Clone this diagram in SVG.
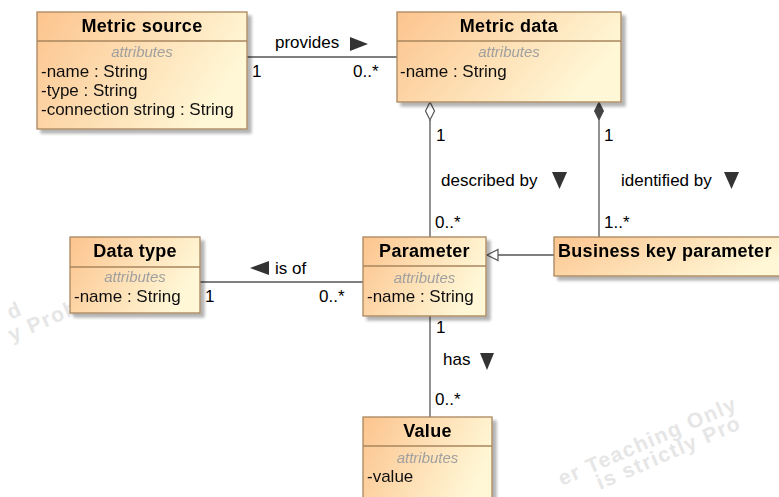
<svg xmlns="http://www.w3.org/2000/svg" width="779" height="497" viewBox="0 0 779 497">
<defs>
<linearGradient id="g" x1="0" y1="0" x2="1" y2="0.35">
<stop offset="0" stop-color="#fcc48e"/>
<stop offset="1" stop-color="#fff7d6"/>
</linearGradient>
<filter id="sh" x="-10%" y="-10%" width="130%" height="140%">
<feGaussianBlur in="SourceAlpha" stdDeviation="1.5"/>
<feOffset dx="4" dy="4" result="o"/>
<feComponentTransfer><feFuncA type="linear" slope="0.3"/></feComponentTransfer>
<feMerge><feMergeNode/><feMergeNode in="SourceGraphic"/></feMerge>
</filter>
</defs>
<style>
.box{fill:url(#g);stroke:#a8865c;stroke-width:1.3}
.sep{stroke:#a8865c;stroke-width:1.3}
.t{font-family:"Liberation Sans",Arial,sans-serif;font-size:18px;font-weight:bold;fill:#000;letter-spacing:0.3px;text-anchor:middle}
.a{font-family:"Liberation Sans",Arial,sans-serif;font-size:15px;font-style:italic;fill:#a0a0a0;text-anchor:middle}
.f{font-family:"Liberation Sans",Arial,sans-serif;font-size:17px;fill:#111}
.l{font-family:"Liberation Sans",Arial,sans-serif;font-size:17px;fill:#000}
.c{stroke:#555;stroke-width:1.3;fill:none}
.tri{fill:#333}
.wm{font-family:"Liberation Sans",Arial,sans-serif;font-size:21px;font-weight:bold;fill:#e6e6e6;letter-spacing:1.5px}
</style>
<rect width="779" height="497" fill="#fff"/>
<g id="watermark">
<text class="wm" x="24" y="314" text-anchor="end" transform="rotate(-23.5 24 314)">d</text>
<text class="wm" x="12" y="342" transform="rotate(-23.5 12 342)">y Prob</text>
<text class="wm" x="562" y="486" transform="rotate(-23.5 562 486)">er Teaching Only</text>
<text class="wm" x="600" y="490" transform="rotate(-23.5 600 490)">is strictly Pro</text>
</g>
<g id="connectors">
<line class="c" x1="247" y1="57" x2="397" y2="57"/>
<text class="l" x="275" y="48">provides</text>
<path class="tri" d="M350,37 L368,44 L350,51 Z"/>
<text class="l" x="252" y="77">1</text>
<text class="l" x="353" y="77">0..*</text>

<line class="c" x1="430" y1="120" x2="430" y2="237"/>
<path d="M430,102 L434.5,111 L430,120 L425.5,111 Z" fill="#fff" stroke="#555" stroke-width="1.2"/>
<text class="l" x="436" y="141">1</text>
<text class="l" x="441" y="186">described by</text>
<path class="tri" d="M552,172 L567,172 L559.5,189 Z"/>
<text class="l" x="435" y="228">0..*</text>

<line class="c" x1="599" y1="120" x2="599" y2="237"/>
<path d="M599,102 L603.5,111 L599,120 L594.5,111 Z" fill="#444" stroke="#444" stroke-width="1"/>
<text class="l" x="604" y="141">1</text>
<text class="l" x="621" y="186">identified by</text>
<path class="tri" d="M724,172 L739,172 L731.5,189 Z"/>
<text class="l" x="604" y="228">1..*</text>

<line class="c" x1="200" y1="282" x2="363" y2="282"/>
<path class="tri" d="M250,268 L269,261 L269,275 Z"/>
<text class="l" x="275" y="274">is of</text>
<text class="l" x="205" y="302">1</text>
<text class="l" x="319" y="302">0..*</text>

<line class="c" x1="498" y1="255" x2="554" y2="255"/>
<path d="M487,255 L498,249.5 L498,260.5 Z" fill="#fff" stroke="#555" stroke-width="1.2"/>

<line class="c" x1="430" y1="316" x2="430" y2="417"/>
<text class="l" x="436" y="333">1</text>
<text class="l" x="443" y="365">has</text>
<path class="tri" d="M480,353 L494,353 L487,370 Z"/>
<text class="l" x="435" y="405">0..*</text>
</g>
<g id="metric-source" filter="url(#sh)">
<rect class="box" x="37" y="12" width="210" height="117"/>
<line class="sep" x1="37" y1="41" x2="247" y2="41"/>
<text class="t" x="142" y="32">Metric source</text>
<text class="a" x="142" y="57">attributes</text>
<text class="f" x="41" y="77">-name : String</text>
<text class="f" x="41" y="96">-type : String</text>
<text class="f" x="41" y="115">-connection string : String</text>
</g>
<g id="metric-data" filter="url(#sh)">
<rect class="box" x="397" y="12" width="224" height="90"/>
<line class="sep" x1="397" y1="41" x2="621" y2="41"/>
<text class="t" x="509" y="32">Metric data</text>
<text class="a" x="509" y="57">attributes</text>
<text class="f" x="400" y="77">-name : String</text>
</g>
<g id="data-type" filter="url(#sh)">
<rect class="box" x="70" y="237" width="130" height="76"/>
<line class="sep" x1="70" y1="267" x2="200" y2="267"/>
<text class="t" x="135" y="257">Data type</text>
<text class="a" x="135" y="282">attributes</text>
<text class="f" x="74" y="302">-name : String</text>
</g>
<g id="parameter" filter="url(#sh)">
<rect class="box" x="363" y="237" width="123" height="79"/>
<line class="sep" x1="363" y1="266" x2="486" y2="266"/>
<text class="t" x="424.5" y="257">Parameter</text>
<text class="a" x="424.5" y="283">attributes</text>
<text class="f" x="367" y="302">-name : String</text>
</g>
<g id="business-key-parameter" filter="url(#sh)">
<rect class="box" x="554" y="237" width="240" height="39"/>
<text class="t" x="558" y="257" style="text-anchor:start">Business key parameter</text>
</g>
<g id="value" filter="url(#sh)">
<rect class="box" x="363" y="417" width="129" height="95"/>
<line class="sep" x1="363" y1="446" x2="492" y2="446"/>
<text class="t" x="427.5" y="437">Value</text>
<text class="a" x="427.5" y="463">attributes</text>
<text class="f" x="367" y="482">-value</text>
</g>
</svg>
